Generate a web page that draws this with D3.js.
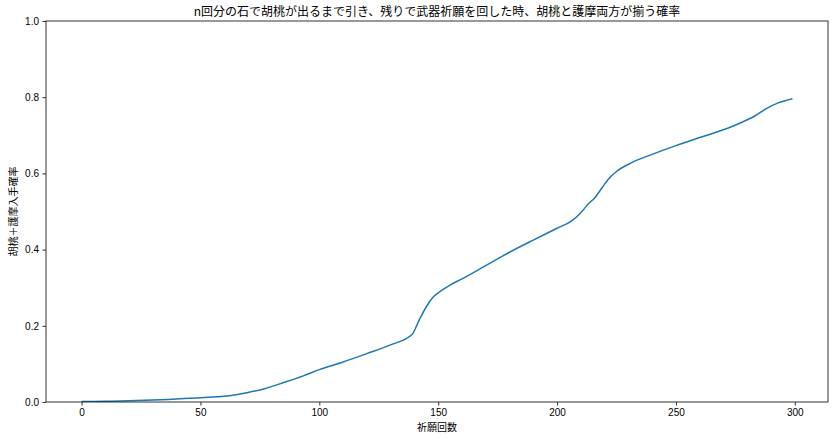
<!DOCTYPE html>
<html><head><meta charset="utf-8">
<script src="https://cdn.jsdelivr.net/npm/d3@7"></script>
<style>
body{margin:0;background:#fff;}
text{font-family:"Noto Sans CJK JP","Noto Sans",sans-serif;}
</style></head>
<body><svg id="c" width="835" height="440"></svg>
<script>
const titleText = "n回分の石で胡桃が出るまで引き、残りで武器祈願を回した時、胡桃と護摩両方が揃う確率";
const xLabel = "祈願回数";
const yLabel = "胡桃＋護摩入手確率";
const pulls = [0,10,20,30,40,50,57,63,70,77,85,93,100,110,120,130,139,142,145,148,151,155,160,170,180,190,200,206,210,213,216,219,222,225,230,240,250,260,272,278,283,288,293,299];
const prob  = [0.001,0.002,0.003,0.005,0.008,0.011,0.014,0.017,0.025,0.035,0.051,0.068,0.085,0.105,0.127,0.150,0.177,0.215,0.250,0.276,0.291,0.307,0.323,0.358,0.393,0.425,0.456,0.475,0.497,0.519,0.537,0.563,0.588,0.605,0.624,0.650,0.673,0.694,0.719,0.735,0.750,0.770,0.785,0.796];
const xTicks = [0,50,100,150,200,250,300];
const yTicks = [0,0.2,0.4,0.6,0.8,1.0];

const svg = d3.select("#c");
const L=46,R=828,T=21,B=402;
const x = d3.scaleLinear().domain([-14.95,313.95]).range([L,R]);
const y = d3.scaleLinear().domain([0,1]).range([B,T]);
const data = pulls.map((n,i)=>({n,p:prob[i]}));

const clipId="clip";
svg.append("clipPath").attr("id",clipId).append("rect").attr("x",L).attr("y",T).attr("width",R-L).attr("height",B-T);

svg.append("path").datum(data)
  .attr("clip-path","url(#clip)")
  .attr("fill","none").attr("stroke","#1f77b4").attr("stroke-width",1.5)
  .attr("stroke-linejoin","round")
  .attr("d",d3.line().x(d=>x(d.n)).y(d=>y(d.p)).curve(d3.curveMonotoneX));

const xa = svg.append("g").attr("transform",`translate(0,${B})`)
  .call(d3.axisBottom(x).tickValues(xTicks).tickFormat(d3.format("d")).tickSize(3.5).tickPadding(3.5));
const ya = svg.append("g").attr("transform",`translate(${L},0)`)
  .call(d3.axisLeft(y).tickValues(yTicks).tickFormat(d3.format(".1f")).tickSize(3.5).tickPadding(3.5));
[xa,ya].forEach(g=>{
  g.select(".domain").remove();
  g.selectAll("line").attr("stroke","#000").attr("stroke-width",0.8);
  g.selectAll("text").attr("font-size",10).attr("fill","#000").style("font-family","'Liberation Sans','DejaVu Sans',sans-serif");
});

svg.append("rect").attr("x",L).attr("y",T).attr("width",R-L).attr("height",B-T)
  .attr("fill","none").attr("stroke","#000").attr("stroke-width",0.8);

svg.append("text").attr("x",(L+R)/2).attr("y",T-5).attr("text-anchor","middle")
  .attr("font-size",12).text(titleText);
svg.append("text").attr("x",(L+R)/2).attr("y",431).attr("text-anchor","middle")
  .attr("font-size",10).text(xLabel);
svg.append("text").attr("transform",`translate(17,${(T+B)/2}) rotate(-90)`).attr("text-anchor","middle")
  .attr("font-size",10).text(yLabel);
</script></body></html>
